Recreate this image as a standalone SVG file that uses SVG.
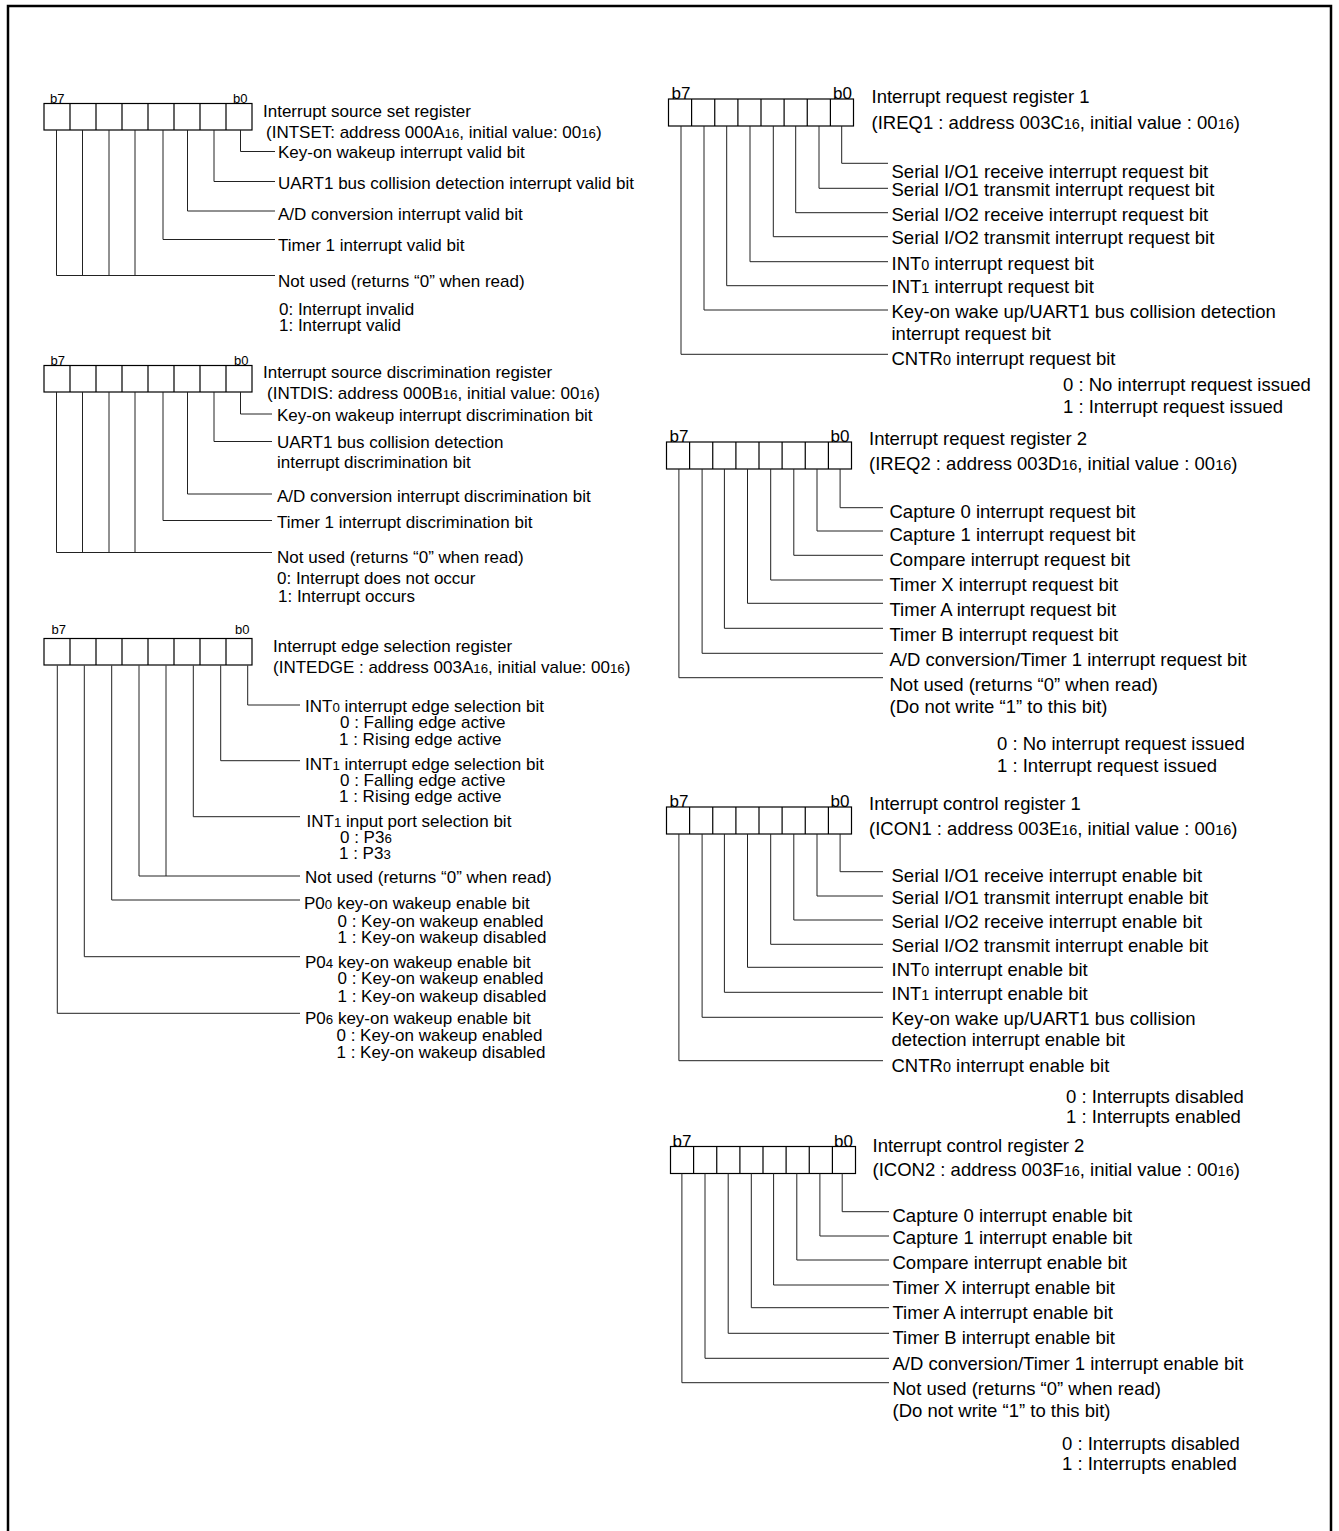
<svg xmlns="http://www.w3.org/2000/svg" width="1339" height="1531" viewBox="0 0 1339 1531">
<style>
text{font-family:"Liberation Sans",Arial,Helvetica,sans-serif;fill:#000}
.l{font-size:17px}
.r{font-size:18.5px}
.bl{font-size:13px}
.br{font-size:17px}
.s{font-size:0.78em}
.box{fill:none;stroke:#000;stroke-width:1.2}
.ld{fill:none;stroke:#222;stroke-width:1}
.frame{fill:none;stroke:#000;stroke-width:2.5}
</style>
<defs>
<g id="cellsL">
<rect class="box" x="0" y="0" width="208" height="26.5"/>
<path class="box" d="M26,0V26.5M52,0V26.5M78,0V26.5M104,0V26.5M130,0V26.5M156,0V26.5M182,0V26.5"/>
</g>
<g id="cellsR">
<rect class="box" x="0" y="0" width="185" height="27"/>
<path class="box" d="M23.1,0V27M46.25,0V27M69.4,0V27M92.5,0V27M115.6,0V27M138.75,0V27M161.9,0V27"/>
</g>
</defs>
<rect width="1339" height="1531" fill="#fff"/>
<path class="frame" d="M8,1531V6H1331V1531"/>

<g id="reg-intset">
<use href="#cellsL" x="44" y="103.5"/>
<text class="bl" x="50" y="103">b7</text>
<text class="bl" x="233" y="103">b0</text>
<text class="l" x="263" y="117">Interrupt source set register</text>
<text class="l" x="266" y="138">(INTSET: address 000A<tspan class="s">16</tspan>, initial value: 00<tspan class="s">16</tspan>)</text>
<text class="l" x="278" y="158">Key-on wakeup interrupt valid bit</text>
<text class="l" x="278" y="188.5">UART1 bus collision detection interrupt valid bit</text>
<text class="l" x="278" y="220">A/D conversion interrupt valid bit</text>
<text class="l" x="278" y="251">Timer 1 interrupt valid bit</text>
<text class="l" x="278" y="287">Not used (returns “0” when read)</text>
<text class="l" x="279" y="315">0: Interrupt invalid</text>
<text class="l" x="279" y="331">1: Interrupt valid</text>
</g>

<g id="reg-intdis">
<use href="#cellsL" x="44" y="365.5"/>
<text class="bl" x="50.5" y="364.5">b7</text>
<text class="bl" x="234" y="364.5">b0</text>
<text class="l" x="263" y="377.5">Interrupt source discrimination register</text>
<text class="l" x="267" y="398.5">(INTDIS: address 000B<tspan class="s">16</tspan>, initial value: 00<tspan class="s">16</tspan>)</text>
<text class="l" x="277" y="420.5">Key-on wakeup interrupt discrimination bit</text>
<text class="l" x="277" y="448">UART1 bus collision detection</text>
<text class="l" x="277" y="467.5">interrupt discrimination bit</text>
<text class="l" x="277" y="502">A/D conversion interrupt discrimination bit</text>
<text class="l" x="277" y="528">Timer 1 interrupt discrimination bit</text>
<text class="l" x="277" y="563">Not used (returns “0” when read)</text>
<text class="l" x="277" y="584">0: Interrupt does not occur</text>
<text class="l" x="278" y="601.5">1: Interrupt occurs</text>
</g>

<g id="reg-intedge">
<use href="#cellsL" x="44" y="638.5"/>
<text class="bl" x="51.5" y="634">b7</text>
<text class="bl" x="235" y="634">b0</text>
<text class="l" x="273" y="651.5">Interrupt edge selection register</text>
<text class="l" x="273" y="673">(INTEDGE : address 003A<tspan class="s">16</tspan>, initial value: 00<tspan class="s">16</tspan>)</text>
<text class="l" x="305" y="711.5">INT<tspan class="s">0</tspan> interrupt edge selection bit</text>
<text class="l" x="340" y="728">0 : Falling edge active</text>
<text class="l" x="339" y="745">1 : Rising edge active</text>
<text class="l" x="305" y="769.5">INT<tspan class="s">1</tspan> interrupt edge selection bit</text>
<text class="l" x="340" y="786">0 : Falling edge active</text>
<text class="l" x="339" y="802">1 : Rising edge active</text>
<text class="l" x="306.5" y="826.5">INT<tspan class="s">1</tspan> input port selection bit</text>
<text class="l" x="340" y="843">0 : P3<tspan class="s">6</tspan></text>
<text class="l" x="339" y="859">1 : P3<tspan class="s">3</tspan></text>
<text class="l" x="305" y="883">Not used (returns “0” when read)</text>
<text class="l" x="304" y="909">P0<tspan class="s">0</tspan> key-on wakeup enable bit</text>
<text class="l" x="337.5" y="926.5">0 : Key-on wakeup enabled</text>
<text class="l" x="337.5" y="943">1 : Key-on wakeup disabled</text>
<text class="l" x="305" y="967.5">P0<tspan class="s">4</tspan> key-on wakeup enable bit</text>
<text class="l" x="337.5" y="984">0 : Key-on wakeup enabled</text>
<text class="l" x="337.5" y="1001.5">1 : Key-on wakeup disabled</text>
<text class="l" x="305" y="1024">P0<tspan class="s">6</tspan> key-on wakeup enable bit</text>
<text class="l" x="336.5" y="1041">0 : Key-on wakeup enabled</text>
<text class="l" x="336.5" y="1057.5">1 : Key-on wakeup disabled</text>
</g>

<g id="reg-ireq1">
<use href="#cellsR" x="668.5" y="99"/>
<text class="br" x="671.5" y="99">b7</text>
<text class="br" x="833" y="99">b0</text>
<text class="r" x="871.5" y="102.5">Interrupt request register 1</text>
<text class="r" x="871.5" y="128.5">(IREQ1 : address 003C<tspan class="s">16</tspan>, initial value : 00<tspan class="s">16</tspan>)</text>
<text class="r" x="891.5" y="177.5">Serial I/O1 receive interrupt request bit</text>
<text class="r" x="891.5" y="195.5">Serial I/O1 transmit interrupt request bit</text>
<text class="r" x="891.5" y="220.5">Serial I/O2 receive interrupt request bit</text>
<text class="r" x="891.5" y="243.5">Serial I/O2 transmit interrupt request bit</text>
<text class="r" x="891.5" y="270">INT<tspan class="s">0</tspan> interrupt request bit</text>
<text class="r" x="891.5" y="292.5">INT<tspan class="s">1</tspan> interrupt request bit</text>
<text class="r" x="891.5" y="317.5">Key-on wake up/UART1 bus collision detection</text>
<text class="r" x="891.5" y="340">interrupt request bit</text>
<text class="r" x="891.5" y="365">CNTR<tspan class="s">0</tspan> interrupt request bit</text>
<text class="r" x="1063" y="390.5">0 : No interrupt request issued</text>
<text class="r" x="1063" y="412.5">1 : Interrupt request issued</text>
</g>

<g id="reg-ireq2">
<use href="#cellsR" x="666.5" y="442"/>
<text class="br" x="669.5" y="441.5">b7</text>
<text class="br" x="830.5" y="441.5">b0</text>
<text class="r" x="869" y="445">Interrupt request register 2</text>
<text class="r" x="869" y="470">(IREQ2 : address 003D<tspan class="s">16</tspan>, initial value : 00<tspan class="s">16</tspan>)</text>
<text class="r" x="889.5" y="517.5">Capture 0 interrupt request bit</text>
<text class="r" x="889.5" y="540.5">Capture 1 interrupt request bit</text>
<text class="r" x="889.5" y="566">Compare interrupt request bit</text>
<text class="r" x="889.5" y="590.5">Timer X interrupt request bit</text>
<text class="r" x="889.5" y="615.5">Timer A interrupt request bit</text>
<text class="r" x="889.5" y="640.5">Timer B interrupt request bit</text>
<text class="r" x="889.5" y="665.5">A/D conversion/Timer 1 interrupt request bit</text>
<text class="r" x="889.5" y="690.5">Not used (returns “0” when read)</text>
<text class="r" x="889.5" y="712.5">(Do not write “1” to this bit)</text>
<text class="r" x="997" y="750">0 : No interrupt request issued</text>
<text class="r" x="997" y="771.5">1 : Interrupt request issued</text>
</g>

<g id="reg-icon1">
<use href="#cellsR" x="666.5" y="807"/>
<text class="br" x="669.5" y="806.5">b7</text>
<text class="br" x="830.5" y="806.5">b0</text>
<text class="r" x="869" y="810">Interrupt control register 1</text>
<text class="r" x="869" y="835">(ICON1 : address 003E<tspan class="s">16</tspan>, initial value : 00<tspan class="s">16</tspan>)</text>
<text class="r" x="891.5" y="881.5">Serial I/O1 receive interrupt enable bit</text>
<text class="r" x="891.5" y="903.5">Serial I/O1 transmit interrupt enable bit</text>
<text class="r" x="891.5" y="927.5">Serial I/O2 receive interrupt enable bit</text>
<text class="r" x="891.5" y="951.5">Serial I/O2 transmit interrupt enable bit</text>
<text class="r" x="891.5" y="975.5">INT<tspan class="s">0</tspan> interrupt enable bit</text>
<text class="r" x="891.5" y="999.5">INT<tspan class="s">1</tspan> interrupt enable bit</text>
<text class="r" x="891.5" y="1025">Key-on wake up/UART1 bus collision</text>
<text class="r" x="891.5" y="1046">detection interrupt enable bit</text>
<text class="r" x="891.5" y="1072">CNTR<tspan class="s">0</tspan> interrupt enable bit</text>
<text class="r" x="1066" y="1103">0 : Interrupts disabled</text>
<text class="r" x="1066" y="1123">1 : Interrupts enabled</text>
</g>

<g id="reg-icon2">
<use href="#cellsR" x="670.5" y="1146.5"/>
<text class="br" x="672.5" y="1146.5">b7</text>
<text class="br" x="834" y="1146.5">b0</text>
<text class="r" x="872.5" y="1151.5">Interrupt control register 2</text>
<text class="r" x="872.5" y="1175.5">(ICON2 : address 003F<tspan class="s">16</tspan>, initial value : 00<tspan class="s">16</tspan>)</text>
<text class="r" x="892.5" y="1221.5">Capture 0 interrupt enable bit</text>
<text class="r" x="892.5" y="1244">Capture 1 interrupt enable bit</text>
<text class="r" x="892.5" y="1269">Compare interrupt enable bit</text>
<text class="r" x="892.5" y="1294">Timer X interrupt enable bit</text>
<text class="r" x="892.5" y="1319">Timer A interrupt enable bit</text>
<text class="r" x="892.5" y="1344">Timer B interrupt enable bit</text>
<text class="r" x="892.5" y="1370">A/D conversion/Timer 1 interrupt enable bit</text>
<text class="r" x="892.5" y="1394.5">Not used (returns “0” when read)</text>
<text class="r" x="892.5" y="1416.5">(Do not write “1” to this bit)</text>
<text class="r" x="1062" y="1450">0 : Interrupts disabled</text>
<text class="r" x="1062" y="1470">1 : Interrupts enabled</text>
</g>

<g id="connectors" class="ld">
<path d="M240.5,130V151.5H275"/>
<path d="M214,130V181.5H275"/>
<path d="M187.5,130V211H275"/>
<path d="M163,130V239.5H275"/>
<path d="M135,130V275.5M109,130V275.5M82.5,130V275.5M56.5,130V275.5H275"/>
<path d="M240.5,392V414H272"/>
<path d="M214,392V441.5H272"/>
<path d="M187.5,392V494H272"/>
<path d="M163,392V520.5H272"/>
<path d="M135,392V552.5M109,392V552.5M82.5,392V552.5M56.5,392V552.5H272"/>
<path d="M247.7,665.5V705H300"/>
<path d="M220.7,665.5V760.7H300"/>
<path d="M193.3,665.5V816.7H300"/>
<path d="M166,665.5V876M139,665.5V876H300"/>
<path d="M111.7,665.5V900H300"/>
<path d="M84.3,665.5V956.7H300"/>
<path d="M57.3,665.5V1013.3H300"/>
<path d="M841.7,126V163.3H888"/>
<path d="M819,126V188.3H888"/>
<path d="M795.7,126V212.7H888"/>
<path d="M773.3,126V236.7H888"/>
<path d="M750,126V261.7H888"/>
<path d="M726.7,126V285.7H888"/>
<path d="M704,126V310H888"/>
<path d="M681,126V354.3H888"/>
<path d="M840.1,469V507.7H883"/>
<path d="M817,469V531H883"/>
<path d="M793.8,469V555.3H883"/>
<path d="M770.7,469V580H883"/>
<path d="M747.5,469V603.3H883"/>
<path d="M724.4,469V628.3H883"/>
<path d="M702.1,469V653.3H883"/>
<path d="M678.9,469V677.7H883"/>
<path d="M840.1,834V871.7H883"/>
<path d="M817,834V896H883"/>
<path d="M793.8,834V920H883"/>
<path d="M770.7,834V944.3H883"/>
<path d="M747.5,834V967.3H883"/>
<path d="M724.4,834V992.3H883"/>
<path d="M702.1,834V1017.3H883"/>
<path d="M678.9,834V1060.7H883"/>
<path d="M842.2,1173.5V1211.7H889"/>
<path d="M819.9,1173.5V1236H889"/>
<path d="M796.8,1173.5V1260H889"/>
<path d="M773.6,1173.5V1285H889"/>
<path d="M751.3,1173.5V1307.7H889"/>
<path d="M728.2,1173.5V1333.3H889"/>
<path d="M705,1173.5V1358.3H889"/>
<path d="M681.9,1173.5V1382.7H889"/>
</g>
</svg>
